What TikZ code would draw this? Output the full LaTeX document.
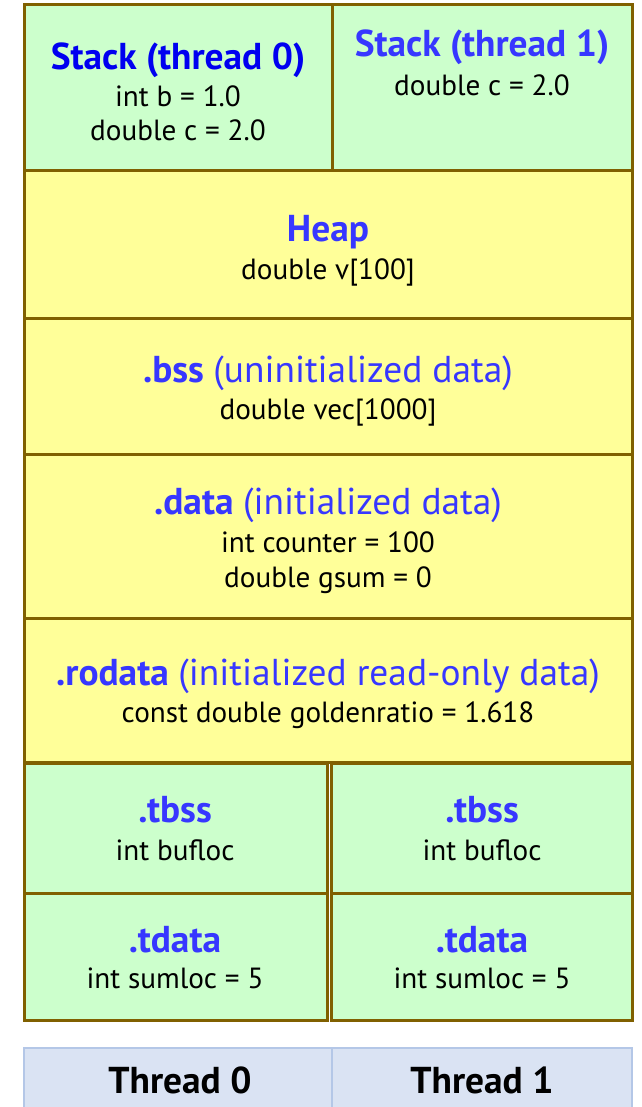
\documentclass[tikz,border=0pt]{standalone}
\usepackage{fontspec}
\setmainfont{PT Sans}
\definecolor{brd}{RGB}{128,96,0}
\definecolor{gfill}{RGB}{204,255,204}
\definecolor{yfill}{RGB}{255,255,153}
\definecolor{tfill}{RGB}{218,227,243}
\definecolor{tbrd}{RGB}{180,199,231}
\definecolor{hblue}{RGB}{0,0,240}
\definecolor{sblue}{RGB}{55,55,255}
\newcommand{\hd}{\fontsize{37.4}{44}\selectfont}
\newcommand{\bd}{\fontsize{29.2}{34}\selectfont}
\tikzset{
  box/.style={draw=brd, line width=3pt, inner sep=0pt, outer sep=0pt, anchor=north west},
  gbox/.style={box, fill=gfill},
  ybox/.style={box, fill=yfill},
  tbox/.style={draw=tbrd, fill=tfill, line width=2.5pt, inner sep=0pt, outer sep=0pt, anchor=north west},
  head/.style={anchor=base, inner sep=0pt, font=\hd\bfseries, text=sblue},
  body/.style={anchor=base, inner sep=0pt, font=\bd, text=black},
}
\begin{document}
\begin{tikzpicture}[x=1pt,y=-1pt]
\useasboundingbox (0,0) rectangle (641,1107);
% boxes
\node[gbox, minimum width=308pt, minimum height=166pt] (st0) at (24,5) {};
\node[gbox, minimum width=300pt, minimum height=166pt] (st1) at (332,5) {};
\node[ybox, minimum width=608pt, minimum height=147pt] (heap) at (24,171) {};
\node[ybox, minimum width=608pt, minimum height=136pt] (bss) at (24,318) {};
\node[ybox, minimum width=608pt, minimum height=164pt] (data) at (24,454) {};
\node[ybox, minimum width=608pt, minimum height=144pt] (rodata) at (24,618) {};
\node[gbox, minimum width=303pt, minimum height=130pt] (tbss0) at (24,763) {};
\node[gbox, minimum width=301pt, minimum height=130pt] (tbss1) at (331,763) {};
\node[gbox, minimum width=303pt, minimum height=127pt] (tdata0) at (24,893) {};
\node[gbox, minimum width=301pt, minimum height=127pt] (tdata1) at (331,893) {};
\node[tbox, minimum width=308pt, minimum height=80pt] (th0) at (24,1048) {};
\node[tbox, minimum width=300pt, minimum height=80pt] (th1) at (332,1048) {};
% texts
\node[head, text=hblue] (st0h) at (178,70) {Stack (thread 0)};
\node[body] (st0a) at (178,107) {int b = 1.0};
\node[body] (st0b) at (178,141) {double c = 2.0};
\node[head] (st1h) at (482,57) {Stack (thread 1)};
\node[body] (st1a) at (482,96) {double c = 2.0};
\node[head] (heaph) at (328,241) {Heap};
\node[body] (heapa) at (328,279) {double v[100]};
\node[head] (bssh) at (328,382) {.bss \mdseries(uninitialized data)};
\node[body] (bssa) at (328,419) {double vec[1000]};
\node[head] (datah) at (328,514) {.data \mdseries(initialized data)};
\node[body] (dataa) at (328,552) {int counter = 100};
\node[body] (datab) at (328,587) {double gsum = 0};
\node[head] (rodatah) at (328,685) {.rodata \mdseries(initialized read-only data)};
\node[body] (rodataa) at (328,722) {const double goldenratio = 1.618};
\node[head] (tbss0h) at (175,822) {.tbss};
\node[body] (tbss0a) at (175,860) {int bufloc};
\node[head] (tbss1h) at (482,822) {.tbss};
\node[body] (tbss1a) at (482,860) {int bufloc};
\node[head] (tdata0h) at (175,952) {.tdata};
\node[body] (tdata0a) at (175,988) {int sumloc = 5};
\node[head] (tdata1h) at (482,952) {.tdata};
\node[body] (tdata1a) at (482,988) {int sumloc = 5};
\node[head, text=black] (th0t) at (180,1093) {Thread 0};
\node[head, text=black] (th1t) at (482,1093) {Thread 1};
\end{tikzpicture}
\end{document}
